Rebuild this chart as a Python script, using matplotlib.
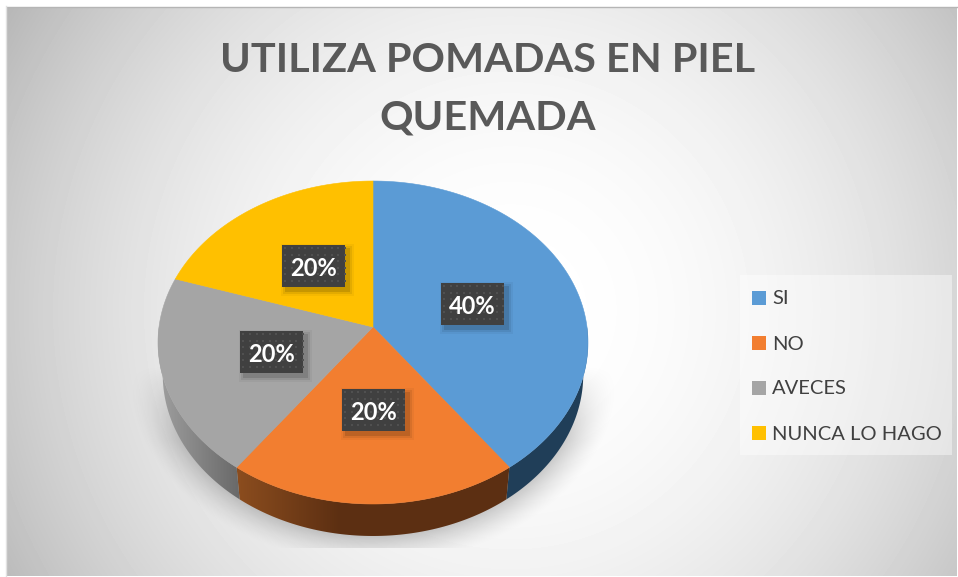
import numpy as np
import matplotlib
matplotlib.use("Agg")
import matplotlib.pyplot as plt
from matplotlib.patches import Polygon, Rectangle

plt.rcParams['font.family'] = ['Lato', 'DejaVu Sans']

title_lines = ["UTILIZA POMADAS EN PIEL", "QUEMADA"]
categories = ["SI", "NO", "AVECES", "NUNCA LO HAGO"]
values = [40, 20, 20, 20]
colors = ["#5B9BD5", "#F27E30", "#A5A5A5", "#FFC000"]
label_centers = [(472.5, 304), (373.5, 410), (272, 352), (314, 266)]

W, H = 958, 577
fig = plt.figure(figsize=(W / 100, H / 100), dpi=100, facecolor="white")
ax = fig.add_axes([0, 0, 1, 1])
ax.set_xlim(0, W)
ax.set_ylim(H, 0)
ax.axis("off")

# background, white in the middle and grey to the corners
xx, yy = np.meshgrid(np.arange(7, 957), np.arange(7, 576))
dist = np.hypot(xx - 510, yy - 310) / 570
bg = np.clip(255 - 68 * dist ** 2.1, 0, 255) / 255
ax.imshow(bg, extent=(7, 957, 576, 7), cmap="gray", vmin=0, vmax=1, zorder=0, aspect="auto")
ax.plot([7, 957], [6.5, 6.5], color="#b5b5b5", lw=1, zorder=1)
ax.plot([6.5, 6.5], [6, 576], color="#e2e2e2", lw=1, zorder=1)
ax.set_xlim(0, W)
ax.set_ylim(H, 0)

# soft shadow under the pie, cut off flat at the bottom
sx, sy = np.meshgrid(np.arange(130, 620), np.arange(340, 548))
edge = (np.hypot((sx - 373) / 226, (sy - 372) / 176) - 1) * 190
sh = np.clip(0.5 - edge / 36, 0, 1) ** 1.5 * 0.24
sh = sh * np.clip((sy - 365) / 75, 0, 1)
rgba = np.zeros(sx.shape + (4,))
rgba[..., 3] = sh
ax.imshow(rgba, extent=(130, 620, 548, 340), zorder=2, aspect="auto")


def top_face(t):
    # circle seen in perspective, t runs clockwise from the top
    u, v = np.sin(t), np.cos(t)
    d = 1 + 0.096 * v
    return 373 + 214 * u / d, 327 - 160 * v / d


def bottom_face(t):
    x, y = top_face(t)
    return 373 + (x - 373) * 0.978, y + 32


def gradient_wall(t0, t1, c0, c1, x0, x1):
    ts = np.linspace(t0, t1, 80)
    xa, ya = top_face(ts)
    xb, yb = bottom_face(ts)
    pts = np.column_stack([np.r_[xa, xb[::-1]], np.r_[ya, yb[::-1]]])
    poly = Polygon(pts, closed=True, fc="none", ec="none", zorder=3)
    ax.add_patch(poly)
    frac = np.clip((np.arange(140, 610) - x0) / (x1 - x0), 0, 1)[None, :, None]
    img = np.array(c0)[None, None, :] * (1 - frac) + np.array(c1)[None, None, :] * frac
    im = ax.imshow(img / 255, extent=(140, 610, 550, 300), zorder=3, aspect="auto")
    im.set_clip_path(poly)


# sides
fractions = np.cumsum([0] + values) / sum(values)
angles = fractions * 2 * np.pi
gradient_wall(angles[0] + np.pi / 2, angles[1], (32, 62, 88), (32, 62, 88), 0, 1000)
gradient_wall(angles[1], angles[2], (92, 47, 18), (138, 76, 30), 340, 240)
gradient_wall(angles[2], np.pi * 1.5, (104, 104, 104), (158, 158, 158), 240, 160)

# top slices
for i in range(len(values)):
    ts = np.linspace(angles[i], angles[i + 1], 120)
    x, y = top_face(ts)
    pts = np.column_stack([np.r_[373, x], np.r_[327, y]])
    ax.add_patch(Polygon(pts, closed=True, fc=colors[i], ec=colors[i], lw=0.4, zorder=4))

# value labels
for (cx, cy), v in zip(label_centers, values):
    for grow, a in [(5, 0.04), (3, 0.07), (1, 0.12)]:
        ax.add_patch(Rectangle((cx - 31.5 + 4 - grow, cy - 21 + 4 - grow), 63 + 2 * grow, 42 + 2 * grow,
                               fc="black", ec="none", alpha=a, zorder=5))
    ax.add_patch(Rectangle((cx - 31.5, cy - 21), 63, 42, fc="#404040", ec="none", zorder=6))
    gx, gy = np.meshgrid(cx - 31.5 + np.arange(3, 63, 6.6), cy - 21 + np.arange(3, 42, 6.6))
    ax.scatter(gx.ravel(), gy.ravel(), s=3, marker="s", c="#505050", linewidths=0, zorder=7)
    ax.text(cx, cy + 2, f"{v}%", color="white", fontsize=17, fontweight="bold",
            ha="center", va="center", zorder=8)

# title
ax.text(488, 60, title_lines[0], color="#595959", fontsize=29.8, fontweight="bold", ha="center", va="center", zorder=8)
ax.text(488, 118, title_lines[1], color="#595959", fontsize=29.8, fontweight="bold", ha="center", va="center", zorder=8)

# legend
ax.add_patch(Rectangle((740, 275), 212, 180, fc="white", ec="none", alpha=0.42, zorder=5))
for i, name in enumerate(categories):
    y = 299 + 45 * i
    ax.add_patch(Rectangle((752, y - 8), 14, 14, fc=colors[i], ec="none", zorder=6))
    ax.text(772, y, name, color="#404040", fontsize=14.5, ha="left", va="center", zorder=6)

fig.savefig("out.png", dpi=100)
